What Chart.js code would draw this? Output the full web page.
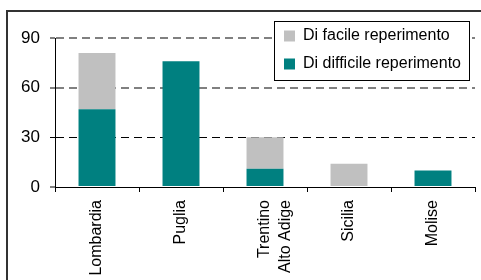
<!DOCTYPE html>
<html>
<head>
<meta charset="utf-8">
<script src="https://cdn.jsdelivr.net/npm/chart.js@4"></script>
<style>
  html, body { margin: 0; padding: 0; background: #fff; }
  #wrap { width: 481px; height: 280px; }
</style>
</head>
<body>
<div id="wrap"><canvas id="chart" width="481" height="280"></canvas></div>
<script>
const regions = ['Lombardia', 'Puglia', ['Trentino', 'Alto Adige'], 'Sicilia', 'Molise'];
const difficile = [47, 76, 11, 0, 10];
const facile = [34, 0, 19, 14, 0];
const yTicks = [0, 30, 60, 90];

const FONT = '"Liberation Sans", Arial, sans-serif';

// frame lines + legend box position
const framePlugin = {
  id: 'frame',
  afterLayout(chart) {
    const lg = chart.legend;
    lg.left = 272; lg.right = 470;
    lg.top = 16; lg.bottom = 100;
    lg.width = 198; lg.height = 84;
    if (!lg._boxed) {
      const draw = lg.draw;
      lg.draw = function () {
        const ctx = chart.ctx;
        ctx.save();
        ctx.fillStyle = '#fff';
        ctx.fillRect(274, 21, 195, 59);
        ctx.strokeStyle = '#000';
        ctx.lineWidth = 1;
        ctx.strokeRect(274.5, 21.5, 195, 59);
        ctx.restore();
        draw.apply(this, arguments);
      };
      lg._boxed = true;
    }
  },
  beforeDraw(chart) {
    const ctx = chart.ctx;
    ctx.save();
    ctx.fillStyle = '#fff';
    ctx.fillRect(0, 0, chart.width, chart.height);
    ctx.strokeStyle = '#333';
    ctx.lineWidth = 2;
    ctx.beginPath();
    ctx.moveTo(7, chart.height);
    ctx.lineTo(7, 11);
    ctx.lineTo(chart.width, 11);
    ctx.stroke();
    ctx.restore();
  }
};

new Chart(document.getElementById('chart'), {
  type: 'bar',
  data: {
    labels: regions,
    datasets: [
      { label: 'Di difficile reperimento', data: difficile, backgroundColor: '#008080' },
      { label: 'Di facile reperimento', data: facile, backgroundColor: '#C0C0C0' }
    ]
  },
  options: {
    responsive: false,
    animation: false,
    events: [],
    barPercentage: 0.44,
    categoryPercentage: 1,
    layout: { padding: { left: 0, top: 38, right: 6, bottom: 0 } },
    scales: {
      x: {
        stacked: true,
        afterFit: (s) => { s.height = 93; },
        grid: { drawOnChartArea: false, tickLength: 5, tickColor: '#000', offset: true },
        border: { color: '#000', width: 1 },
        ticks: {
          color: '#000',
          font: { family: FONT, size: 16, lineHeight: 1.3 },
          maxRotation: 90, minRotation: 90,
          padding: 8,
          autoSkip: false
        }
      },
      y: {
        stacked: true,
        min: 0, max: 90,
        afterFit: (s) => { s.width = 55; },
        afterBuildTicks: (s) => { s.ticks = yTicks.map(v => ({ value: v })); },
        grid: {
          color: (c) => c.tick.value === 0 ? 'rgba(0,0,0,0)' : (c.tick.value === 30 ? '#000' : '#808080'),
          lineWidth: (c) => c.tick.value === 30 ? 1 : 2,
          tickColor: '#000',
          tickWidth: 1,
          tickLength: 5
        },
        border: { color: '#000', width: 1, dash: [8, 5] },
        ticks: {
          color: '#000',
          font: { family: FONT, size: 17 },
          padding: 10
        }
      }
    },
    plugins: {
      legend: {
        position: 'chartArea',
        align: 'start',
        reverse: true,
        labels: {
          color: '#000',
          font: { family: FONT, size: 16 },
          boxWidth: 11,
          boxHeight: 11,
          padding: 12
        }
      },
      tooltip: { enabled: false }
    }
  },
  plugins: [framePlugin]
});
</script>
</body>
</html>
